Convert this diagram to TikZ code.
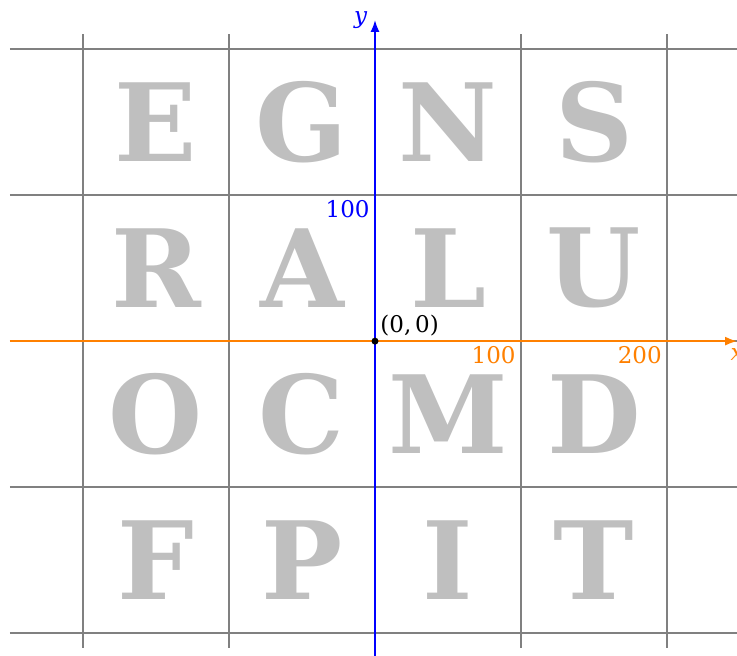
\documentclass[tikz,border=0pt]{standalone}
\usepackage{fontspec}
\setmainfont{DejaVu Serif}
\usepackage{xcolor}
\usetikzlibrary{arrows.meta}

\begin{document}
\begin{tikzpicture}[x=0.73pt, y=0.73pt,
    font=\fontsize{11.5}{13}\selectfont,
    gridline/.style={gray, line width=1pt},
    letter/.style={black!25, inner sep=0pt, font=\fontsize{54}{54}\selectfont\bfseries},
    axis/.style={line width=1pt, -{Latex[length=6pt,width=4.5pt]}}]
\useasboundingbox (-256.8,-215.1) rectangle (247.9,233.6);

% Grid
\foreach \g in {-200,-100,0,100,200}
    \draw[gridline] (-250,\g) -- (250,\g);
\foreach \g in {-200,-100,100,200}
    \draw[gridline] (\g,-210) -- (\g,210);

% Letters
\node[letter] (lE) at (-150,150) {E};
\node[letter] (lG) at (-50,150) {G};
\node[letter] (lN) at (50,150) {N};
\node[letter] (lS) at (150,150) {S};
\node[letter] (lR) at (-150,50) {R};
\node[letter] (lA) at (-50,50) {A};
\node[letter] (lL) at (50,50) {L};
\node[letter] (lU) at (150,50) {U};
\node[letter] (lO) at (-150,-50) {O};
\node[letter] (lC) at (-50,-50) {C};
\node[letter] (lM) at (50,-50) {M};
\node[letter] (lD) at (150,-50) {D};
\node[letter] (lF) at (-150,-150) {F};
\node[letter] (lP) at (-50,-150) {P};
\node[letter] (lI) at (50,-150) {I};
\node[letter] (lT) at (150,-150) {T};

% Axes
\coordinate (xstart) at (-250,0);
\coordinate (xend) at (248,0);
\coordinate (ystart) at (0,-220);
\coordinate (yend) at (0,220);
\draw[axis, orange] (xstart) -- (xend) node[below] {\textit{x}};
\draw[axis, blue] (ystart) -- (yend) node[left] {\textit{y}};

\node[blue, below left, inner sep=2.5pt] at (0,100) {100};
\node[orange, below left, inner sep=2.5pt] at (100,0) {100};
\node[orange, below left, inner sep=2.5pt] at (200,0) {200};

\fill (0,0) circle (1.75pt) node[above right, inner sep=2.5pt] {(0,\,0)};
\end{tikzpicture}
\end{document}
